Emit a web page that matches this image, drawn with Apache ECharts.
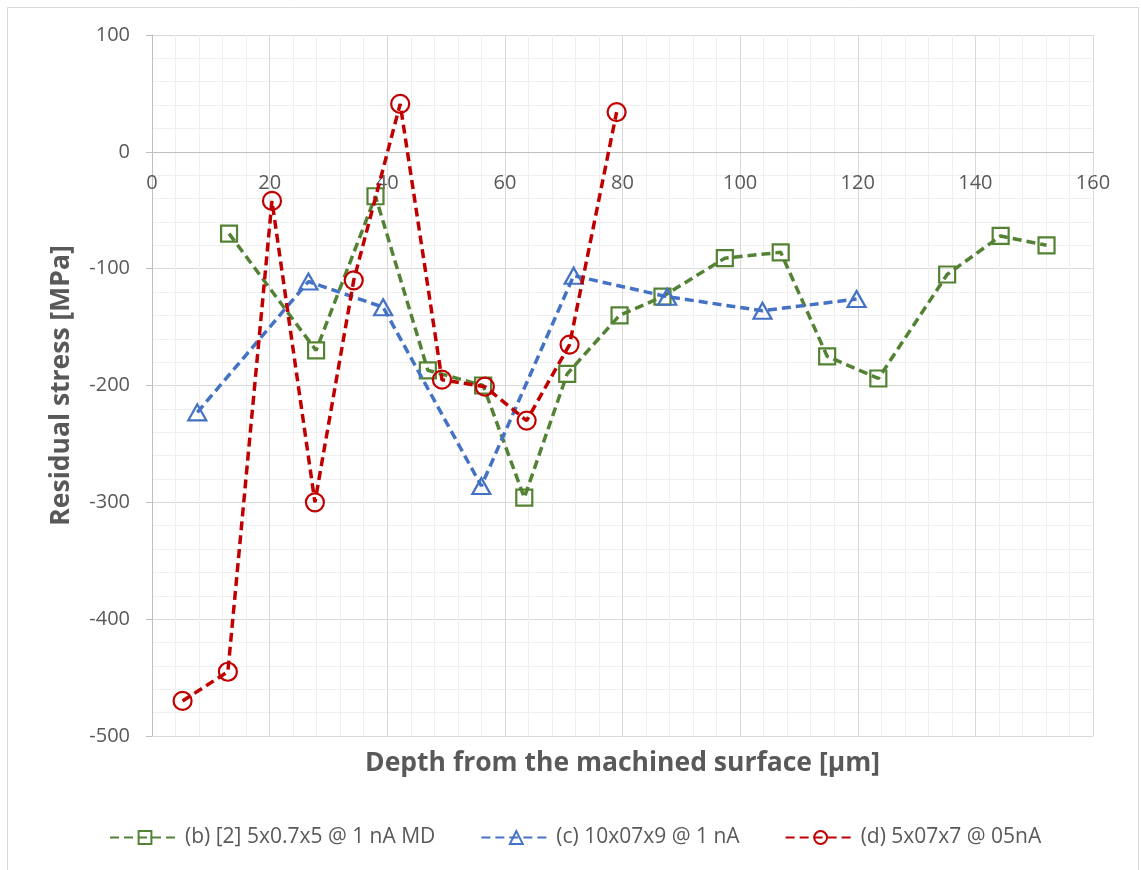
<!DOCTYPE html>
<html>
<head>
<meta charset="utf-8">
<title>Residual stress vs depth</title>
<script src="https://cdn.jsdelivr.net/npm/echarts@6/dist/echarts.min.js"></script>
<style>
  html, body { margin: 0; padding: 0; background: #ffffff; }
  #chart { width: 1141px; height: 870px; }
</style>
</head>
<body>
<div id="chart"></div>
<script>
// Depth [µm] and residual stress [MPa] for each measurement series
const seriesNames = [
  '(b) [2] 5x0.7x5 @ 1 nA MD',
  '(c) 10x07x9 @ 1 nA',
  '(d) 5x07x7 @ 05nA'
];

const depthB = [13.1, 27.9, 38.0, 46.9, 56.3, 63.3, 70.6, 79.5, 86.8, 97.4, 106.9, 114.8, 123.5, 135.2, 144.3, 152.1];
const stressB = [-70, -170, -38, -187, -200, -296, -190, -140, -124, -91, -86, -175, -194, -105, -72, -80];

const depthC = [7.7, 26.6, 39.3, 56.0, 71.7, 87.6, 103.8, 119.8];
const stressC = [-223, -111, -133, -286, -106, -124, -136, -126];

const depthD = [5.2, 12.9, 20.4, 27.7, 34.3, 42.2, 49.3, 56.6, 63.7, 71.0, 79.0];
const stressD = [-470, -445, -42, -300, -110, 41, -195, -201, -230, -165, 34];

const xTicks = { min: 0, max: 160, step: 20 };
const yTicks = { min: -500, max: 100, step: 100 };

const colors = ['#548235', '#4472C4', '#C00000'];
const symbols = ['rect', 'triangle', 'circle'];
const symbolSizes = [16, [18, 16], 18];

const FONT = '"Open Sans", "Noto Sans", sans-serif';
const TEXT = '#595959';

function pairs(xs, ys) {
  return xs.map((x, i) => [x, ys[i]]);
}

const dataSets = [pairs(depthB, stressB), pairs(depthC, stressC), pairs(depthD, stressD)];

const chart = echarts.init(document.getElementById('chart'), null, { renderer: 'canvas' });

chart.setOption({
  backgroundColor: '#ffffff',
  animation: false,
  textStyle: { fontFamily: FONT },
  graphic: [{
    type: 'rect',
    shape: { x: 7.5, y: 7.5, width: 1131, height: 870 },
    style: { fill: 'none', stroke: '#d9d9d9', lineWidth: 1 },
    silent: true,
    z: -10
  }],
  grid: { left: 152, right: 48, top: 35, bottom: 134, containLabel: false },
  legend: {
    top: 822,
    left: 104,
    itemWidth: 70,
    itemHeight: 16,
    itemGap: 45,
    textStyle: { fontFamily: FONT, fontSize: 21, color: TEXT },
    data: seriesNames
  },
  xAxis: [{
    // value axis drawn across the zero stress line
    type: 'value',
    min: xTicks.min,
    max: xTicks.max,
    interval: xTicks.step,
    offset: 0,
    axisLine: { show: true, onZero: false, lineStyle: { color: '#bfbfbf', width: 1 } },
    axisTick: { show: false },
    axisLabel: { color: TEXT, fontSize: 20, fontFamily: FONT, margin: 21 },
    splitLine: { show: true, lineStyle: { color: '#d9d9d9', width: 1 } },
    minorTick: { show: false, splitNumber: 5 },
    minorSplitLine: { show: true, lineStyle: { color: '#efefef', width: 1 } }
  }, {
    // carries the axis title along the bottom edge of the plot
    type: 'value',
    position: 'bottom',
    min: xTicks.min,
    max: xTicks.max,
    name: 'Depth from the machined surface [µm]',
    nameLocation: 'middle',
    nameGap: 14,
    nameTextStyle: { color: TEXT, fontSize: 26.5, fontWeight: 'bold', fontFamily: FONT },
    axisLine: { show: false, onZero: false },
    axisTick: { show: false },
    axisLabel: { show: false },
    splitLine: { show: false }
  }],
  yAxis: {
    type: 'value',
    min: yTicks.min,
    max: yTicks.max,
    interval: yTicks.step,
    name: 'Residual stress [MPa]',
    nameLocation: 'middle',
    nameRotate: 90,
    nameGap: 77,
    nameTextStyle: { color: TEXT, fontSize: 26.5, fontWeight: 'bold', fontFamily: FONT },
    axisLine: { show: true, onZero: false, lineStyle: { color: '#bfbfbf', width: 1 } },
    axisTick: { show: true, inside: false, length: 6, lineStyle: { color: '#bfbfbf' } },
    axisLabel: { color: TEXT, fontSize: 20, fontFamily: FONT, margin: 22 },
    splitLine: { show: true, lineStyle: { color: '#d9d9d9', width: 1 } },
    minorTick: { show: false, splitNumber: 5 },
    minorSplitLine: { show: true, lineStyle: { color: '#efefef', width: 1 } }
  },
  series: dataSets.map((data, i) => ({
    name: seriesNames[i],
    type: 'line',
    xAxisIndex: 0,
    data: data,
    symbol: symbols[i],
    symbolSize: symbolSizes[i],
    showAllSymbol: true,
    color: colors[i],
    lineStyle: { color: colors[i], width: 3.5, type: [9, 5] },
    itemStyle: { color: 'rgba(255,255,255,0)', borderColor: colors[i], borderWidth: 2.2 },
    emphasis: { disabled: true },
    z: 2 + i
  }))
});

// Lift the depth axis up to the zero-stress line
const zeroY = chart.convertToPixel({ yAxisIndex: 0 }, 0);
const bottomY = chart.convertToPixel({ yAxisIndex: 0 }, yTicks.min);
chart.setOption({ xAxis: [{ offset: zeroY - bottomY }, {}] });
</script>
</body>
</html>
